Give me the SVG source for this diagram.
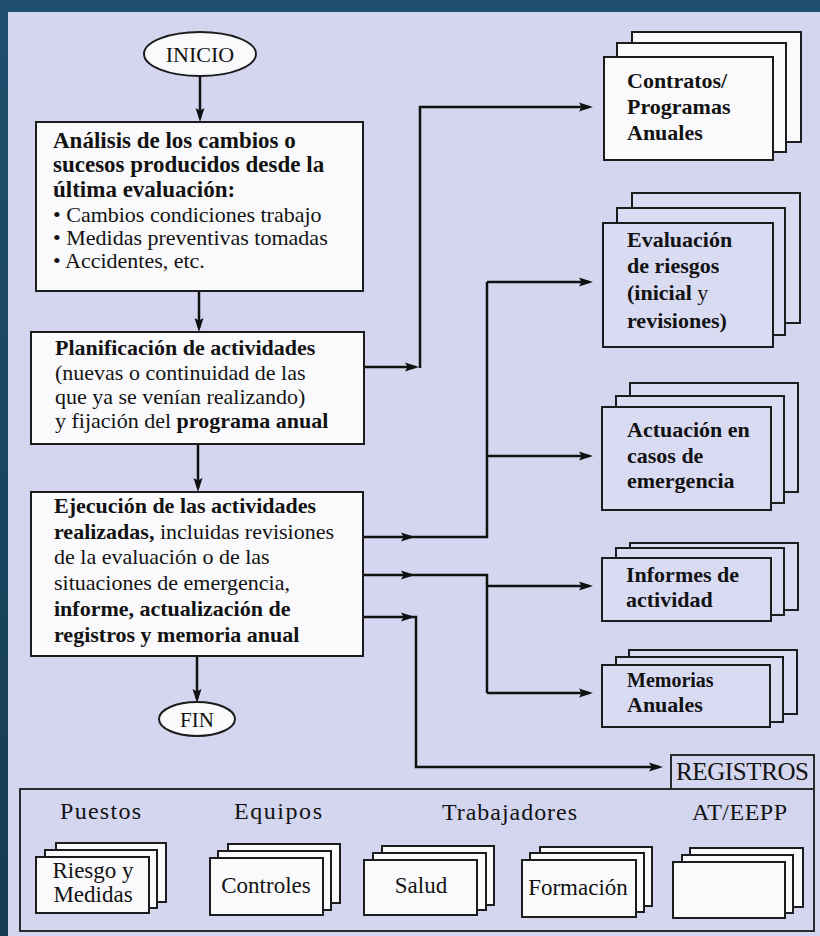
<svg xmlns="http://www.w3.org/2000/svg" width="820" height="936" viewBox="0 0 820 936">
<defs>
<linearGradient id="band" x1="0" y1="0" x2="0" y2="1">
<stop offset="0" stop-color="#1f4f6d"/>
<stop offset="1" stop-color="#163b52"/>
</linearGradient>
<marker id="arr" markerUnits="userSpaceOnUse" markerWidth="16" markerHeight="10" refX="10" refY="5" orient="auto">
<path d="M0,0.5 L14,5 L0,9.5 L2.5,5 z" fill="#111"/>
</marker>
<style>
.t{font-family:"Liberation Serif","Times New Roman",serif;fill:#121212;font-size:22px}
.b{font-weight:bold}
.box{fill:#fafafc;stroke:#1c1c1c;stroke-width:2}
.dw{fill:#fafafc;stroke:#1c1c1c;stroke-width:2}
.dl{fill:#d9dbf2;stroke:#1c1c1c;stroke-width:2}
.c{fill:none;stroke:#111;stroke-width:2.5}
.ca{fill:none;stroke:#111;stroke-width:2.5;marker-end:url(#arr)}
.reg{fill:#d4d6ef;stroke:#2a2a2a;stroke-width:2}
.lab{font-size:24px}
.sd{font-size:23px}
</style>
</defs>
<rect x="0" y="0" width="820" height="936" fill="#d4d6ef"/>
<rect x="0" y="0" width="820" height="12" fill="#1f4f6d"/>
<rect x="0" y="0" width="8" height="936" fill="url(#band)"/>

<g id="connectors">
<path class="ca" d="M200,77 V118"/>
<path class="ca" d="M199,291 V328"/>
<path class="ca" d="M198,444 V488"/>
<path class="ca" d="M197,656 V699"/>
<path class="ca" d="M364,367 H415"/>
<path class="ca" d="M420,368 V107 H589"/>
<path class="ca" d="M363,537 H411"/>
<path class="c" d="M411,537 H487 V282"/>
<path class="ca" d="M487,282 H589"/>
<path class="ca" d="M487,456 H589"/>
<path class="ca" d="M363,575 H411"/>
<path class="c" d="M411,575 H487 V693"/>
<path class="ca" d="M487,693 H589"/>
<path class="ca" d="M487,586 H589"/>
<path class="ca" d="M363,617 H411"/>
<path class="ca" d="M411,617 H416 V767 H659"/>
</g>

<g id="inicio">
<ellipse cx="200" cy="54" rx="56" ry="22" class="box"/>
<text class="t" x="200" y="62" text-anchor="middle">INICIO</text>
</g>

<g id="analisis">
<rect class="box" x="36" y="122" width="327" height="169"/>
<text class="t b" x="53" y="148" style="font-size:23px">Análisis de los cambios o</text>
<text class="t b" x="53" y="172" style="font-size:23px">sucesos producidos desde la</text>
<text class="t b" x="53" y="197" style="font-size:23px">última evaluación:</text>
<text class="t" x="53" y="222">• Cambios condiciones trabajo</text>
<text class="t" x="53" y="245">• Medidas preventivas tomadas</text>
<text class="t" x="53" y="268">• Accidentes, etc.</text>
</g>

<g id="planificacion">
<rect class="box" x="31" y="332" width="333" height="112"/>
<text class="t b" x="55" y="355">Planificación de actividades</text>
<text class="t" x="55" y="380">(nuevas o continuidad de las</text>
<text class="t" x="55" y="404">que ya se venían realizando)</text>
<text class="t" x="55" y="428">y fijación del <tspan class="b">programa anual</tspan></text>
</g>

<g id="ejecucion">
<rect class="box" x="31" y="492" width="332" height="164"/>
<text class="t b" x="54" y="513">Ejecución de las actividades</text>
<text class="t" x="54" y="539"><tspan class="b">realizadas,</tspan> incluidas revisiones</text>
<text class="t" x="54" y="564">de la evaluación o de las</text>
<text class="t" x="54" y="590">situaciones de emergencia,</text>
<text class="t b" x="54" y="616">informe, actualización de</text>
<text class="t b" x="54" y="642">registros y memoria anual</text>
</g>

<g id="fin">
<ellipse cx="197" cy="719" rx="38" ry="17" class="box"/>
<text class="t" x="197" y="727" text-anchor="middle" style="font-size:21px">FIN</text>
</g>

<g id="contratos">
<rect class="dw" x="632" y="32" width="169" height="110"/>
<rect class="dw" x="617" y="43" width="169" height="109"/>
<rect class="dw" x="604" y="57" width="169" height="103"/>
<text class="t b" x="627" y="88">Contratos/</text>
<text class="t b" x="627" y="114">Programas</text>
<text class="t b" x="627" y="140">Anuales</text>
</g>

<g id="evaluacion">
<rect class="dl" x="632" y="193" width="168" height="130"/>
<rect class="dl" x="617" y="208" width="168" height="127"/>
<rect class="dl" x="603" y="223" width="170" height="124"/>
<text class="t b" x="627" y="247">Evaluación</text>
<text class="t b" x="627" y="273">de riesgos</text>
<text class="t b" x="627" y="300">(inicial <tspan style="font-weight:normal">y</tspan></text>
<text class="t b" x="627" y="328">revisiones)</text>
</g>

<g id="actuacion">
<rect class="dl" x="630" y="383" width="168" height="109"/>
<rect class="dl" x="616" y="396" width="168" height="107"/>
<rect class="dl" x="602" y="407" width="169" height="103"/>
<text class="t b" x="627" y="437">Actuación en</text>
<text class="t b" x="627" y="463">casos de</text>
<text class="t b" x="627" y="488">emergencia</text>
</g>

<g id="informes">
<rect class="dl" x="630" y="543" width="168" height="67"/>
<rect class="dl" x="616" y="548" width="168" height="67"/>
<rect class="dl" x="602" y="558" width="169" height="63"/>
<text class="t b" x="626" y="582">Informes de</text>
<text class="t b" x="626" y="607">actividad</text>
</g>

<g id="memorias">
<rect class="dl" x="629" y="650" width="168" height="64"/>
<rect class="dl" x="616" y="657" width="167" height="65"/>
<rect class="dl" x="602" y="665" width="168" height="62"/>
<text class="t b" x="627" y="687" style="font-size:20px">Memorias</text>
<text class="t b" x="627" y="712">Anuales</text>
</g>

<g id="registros">
<rect class="reg" x="671" y="755" width="143" height="34"/>
<rect class="reg" x="20" y="789" width="794" height="142"/>
<text class="t" x="676" y="780" style="font-size:25px" textLength="133" lengthAdjust="spacing">REGISTROS</text>
<text class="t lab" x="60" y="819" textLength="81" lengthAdjust="spacing">Puestos</text>
<text class="t lab" x="234" y="819" textLength="88" lengthAdjust="spacing">Equipos</text>
<text class="t lab" x="442" y="820" textLength="135" lengthAdjust="spacing">Trabajadores</text>
<text class="t lab" x="692" y="820" textLength="95" lengthAdjust="spacing">AT/EEPP</text>
</g>

<g id="riesgo-medidas">
<rect class="dw" x="56" y="843" width="110" height="59"/>
<rect class="dw" x="45" y="850" width="112" height="58"/>
<rect class="dw" x="36" y="857" width="113" height="56"/>
<text class="t sd" x="93" y="878" text-anchor="middle">Riesgo y</text>
<text class="t sd" x="93" y="902" text-anchor="middle">Medidas</text>
</g>

<g id="controles">
<rect class="dw" x="228" y="844" width="112" height="59"/>
<rect class="dw" x="218" y="851" width="113" height="59"/>
<rect class="dw" x="210" y="858" width="113" height="57"/>
<text class="t sd" x="266" y="893" text-anchor="middle">Controles</text>
</g>

<g id="salud">
<rect class="dw" x="382" y="846" width="112" height="59"/>
<rect class="dw" x="373" y="853" width="113" height="57"/>
<rect class="dw" x="364" y="860" width="113" height="55"/>
<text class="t sd" x="421" y="893" text-anchor="middle">Salud</text>
</g>

<g id="formacion">
<rect class="dw" x="540" y="847" width="112" height="59"/>
<rect class="dw" x="530" y="853" width="114" height="59"/>
<rect class="dw" x="522" y="860" width="114" height="57"/>
<text class="t sd" x="578" y="895" text-anchor="middle">Formación</text>
</g>

<g id="at-eepp">
<rect class="dw" x="690" y="848" width="113" height="59"/>
<rect class="dw" x="682" y="855" width="111" height="58"/>
<rect class="dw" x="673" y="862" width="112" height="56"/>
</g>
</svg>
